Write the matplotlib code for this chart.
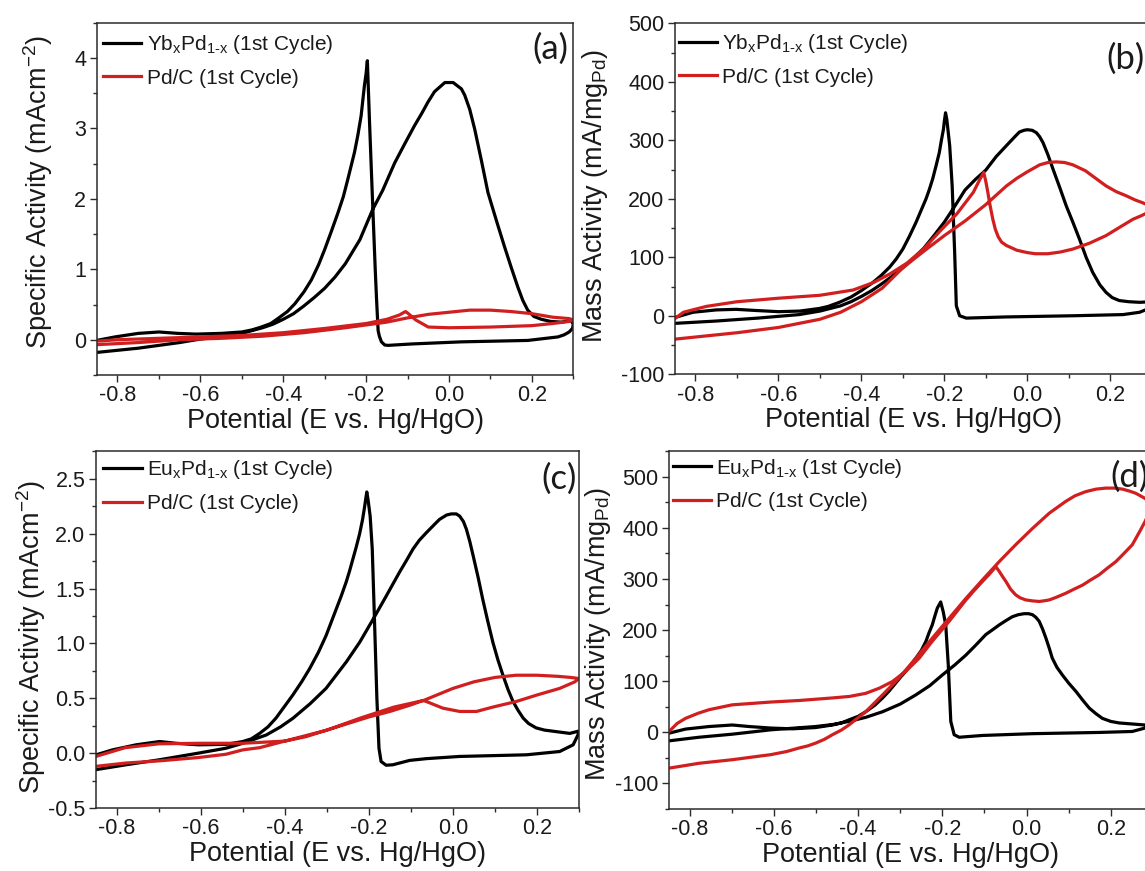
import matplotlib
matplotlib.use("Agg")
import matplotlib.pyplot as plt
from matplotlib.ticker import MultipleLocator, FormatStrFormatter

plt.rcParams['font.family'] = ['Liberation Sans', 'DejaVu Sans']
plt.rcParams['mathtext.default'] = 'regular'
plt.rcParams['axes.unicode_minus'] = False

# ---------------- data (E vs Hg/HgO, current) ----------------
# (a) specific activity, YbxPd1-x  (forward scan then reverse scan)
a_blk_E = [-0.85, -0.80, -0.75, -0.70, -0.65, -0.61, -0.55, -0.50, -0.45, -0.425, -0.40, -0.375, -0.35,
           -0.325, -0.30, -0.275, -0.25, -0.215, -0.184, -0.16, -0.131, -0.105, -0.083, -0.065, -0.051,
           -0.035, -0.01, 0.01, 0.03, 0.038, 0.05, 0.062, 0.078, 0.094, 0.115, 0.134, 0.15, 0.166, 0.178,
           0.19, 0.205, 0.223, 0.245, 0.271, 0.295, 0.30,
           0.298, 0.29, 0.278, 0.263, 0.19, 0.03, -0.09, -0.147, -0.155, -0.163, -0.168, -0.171, -0.175,
           -0.178, -0.186, -0.192, -0.196, -0.197, -0.20, -0.204, -0.212, -0.22, -0.228, -0.244, -0.255,
           -0.268, -0.285, -0.30, -0.315, -0.332, -0.35, -0.372, -0.39, -0.413, -0.43, -0.453, -0.475,
           -0.50, -0.55, -0.61, -0.654, -0.70, -0.75, -0.806, -0.85]
a_blk_I = [-0.18, -0.15, -0.12, -0.08, -0.04, 0.0, 0.05, 0.09, 0.17, 0.22, 0.29, 0.37, 0.48,
           0.60, 0.73, 0.89, 1.08, 1.42, 1.85, 2.12, 2.51, 2.80, 3.04, 3.22, 3.37,
           3.52, 3.65, 3.65, 3.56, 3.47, 3.27, 2.99, 2.55, 2.09, 1.68, 1.32, 1.03, 0.75, 0.56,
           0.42, 0.33, 0.29, 0.26, 0.25, 0.27, 0.22,
           0.16, 0.11, 0.07, 0.04, -0.01, -0.03, -0.06, -0.08, -0.075, -0.03, 0.05, 0.13, 0.6,
           1.0, 2.2, 3.13, 3.8, 3.96, 3.78, 3.61, 3.18, 2.9, 2.66, 2.28, 2.03,
           1.8, 1.52, 1.28, 1.06, 0.85, 0.68, 0.51, 0.40, 0.30, 0.23, 0.18, 0.14,
           0.11, 0.09, 0.08, 0.09, 0.11, 0.09, 0.04, -0.01]
# (a) Pd/C
a_red_E = [-0.85, -0.75, -0.65, -0.55, -0.45, -0.35, -0.25, -0.15, -0.10, -0.05, 0.0, 0.05, 0.10, 0.15,
           0.20, 0.25, 0.29, 0.30,
           0.29, 0.25, 0.20, 0.10, 0.0, -0.05, -0.08, -0.10, -0.105, -0.12, -0.15, -0.20, -0.30, -0.40,
           -0.50, -0.60, -0.70, -0.80, -0.85]
a_red_I = [-0.07, -0.04, 0.0, 0.02, 0.05, 0.10, 0.17, 0.25, 0.31, 0.36, 0.39, 0.42, 0.42, 0.40,
           0.37, 0.32, 0.30, 0.28,
           0.26, 0.23, 0.20, 0.18, 0.17, 0.18, 0.28, 0.38, 0.40, 0.35, 0.29, 0.23, 0.16, 0.10,
           0.06, 0.04, 0.02, 0.0, -0.02]

# (b) mass activity, YbxPd1-x
b_blk_E = [-0.85, -0.75, -0.65, -0.55, -0.50, -0.45, -0.425, -0.40, -0.375, -0.35, -0.325, -0.30, -0.275,
           -0.25, -0.225, -0.20, -0.175, -0.15, -0.125, -0.10, -0.075, -0.05, -0.03, -0.019, -0.008, 0.0,
           0.012, 0.022, 0.03, 0.038, 0.05, 0.062, 0.078, 0.094, 0.11, 0.126, 0.142, 0.158, 0.175, 0.19,
           0.205, 0.222, 0.245, 0.271, 0.30,
           0.30, 0.285, 0.271, 0.231, 0.110, -0.051, -0.147, -0.163, -0.171, -0.175, -0.181, -0.187,
           -0.194, -0.197, -0.20, -0.202, -0.207, -0.212, -0.22, -0.228, -0.236, -0.244, -0.256, -0.268,
           -0.284, -0.30, -0.316, -0.332, -0.352, -0.372, -0.40, -0.425, -0.453, -0.48,
           -0.501, -0.549, -0.60, -0.654, -0.702, -0.75, -0.806, -0.85]
b_blk_I = [-13, -9, -4, 2, 8, 17, 24, 33, 43, 55, 68, 82, 98,
           115, 137, 160, 187, 215, 233, 249, 272, 291, 306, 314, 317, 318,
           317, 313, 306, 296, 275, 251, 220, 188, 160, 131, 100, 74, 53, 40,
           31, 26, 24, 23, 24,
           15, 10, 6, 2, 0, -2, -4, 0, 17, 108, 222, 291,
           336, 347, 332, 319, 300, 279, 256, 234, 216, 200, 180, 160,
           136, 114, 97, 83, 69, 57, 43, 32, 23, 16,
           12.5, 8, 7, 9, 11, 10, 6, -3]
# (b) Pd/C
b_red_E = [-0.85, -0.70, -0.60, -0.50, -0.45, -0.40, -0.35, -0.30, -0.25, -0.20, -0.15, -0.10, -0.05,
           -0.025, 0.0, 0.03, 0.05, 0.07, 0.09, 0.11, 0.14, 0.165, 0.19, 0.215, 0.239, 0.26, 0.279, 0.30,
           0.295, 0.275, 0.255, 0.22, 0.19, 0.15, 0.11, 0.08, 0.05, 0.02, 0.0, -0.025, -0.05, -0.062,
           -0.07, -0.077, -0.083, -0.09, -0.095, -0.10, -0.105, -0.115, -0.13, -0.17, -0.21, -0.25,
           -0.29, -0.33, -0.37, -0.42, -0.50, -0.60, -0.70, -0.774, -0.829, -0.85]
b_red_I = [-40, -29, -20, -6, 6, 24, 47, 82, 110, 137, 162, 190, 222,
           235, 246, 258, 262, 263, 262, 258, 248, 235, 222, 212, 205, 198, 193, 186,
           178, 171, 165, 150, 137, 124, 114, 109, 106, 106, 108, 112, 120, 126,
           135, 148, 165, 190, 211, 230, 245, 232, 211, 174, 145, 114,
           90, 72, 57, 44, 35, 30, 24, 16, 6, -5]

# (c) specific activity, EuxPd1-x
c_blk_E = [-0.849, -0.778, -0.698, -0.606, -0.54, -0.50, -0.444, -0.41, -0.381, -0.34, -0.302, -0.278,
           -0.254, -0.222, -0.19, -0.159, -0.127, -0.11, -0.095, -0.08, -0.063, -0.045, -0.032, -0.015,
           -0.004, 0.008, 0.016, 0.025, 0.032, 0.04, 0.048, 0.06, 0.071, 0.083, 0.095, 0.107, 0.119,
           0.131, 0.143, 0.155, 0.167, 0.18, 0.198, 0.218, 0.238, 0.278, 0.298,
           0.298, 0.286, 0.254, 0.175, 0.016, -0.063, -0.103, -0.143, -0.159, -0.171, -0.176, -0.181,
           -0.187, -0.192, -0.197, -0.202, -0.205, -0.207, -0.21, -0.215, -0.222, -0.23, -0.238, -0.246,
           -0.254, -0.266, -0.278, -0.29, -0.302, -0.32, -0.341, -0.36, -0.381, -0.40, -0.421, -0.44,
           -0.46, -0.48, -0.50, -0.54, -0.606, -0.659, -0.698, -0.754, -0.81, -0.849]
c_blk_I = [-0.15, -0.106, -0.06, 0.0, 0.045, 0.09, 0.166, 0.24, 0.317, 0.45, 0.59, 0.71,
           0.83, 1.01, 1.22, 1.43, 1.65, 1.76, 1.86, 1.94, 2.01, 2.08, 2.13, 2.17,
           2.18, 2.18, 2.16, 2.11, 2.04, 1.93, 1.80, 1.60, 1.40, 1.20, 1.01, 0.85, 0.71,
           0.58, 0.47, 0.39, 0.32, 0.27, 0.23, 0.21, 0.20, 0.18, 0.20,
           0.17, 0.076, 0.015, -0.015, -0.03, -0.05, -0.066, -0.106, -0.11, -0.076, 0.045, 0.5,
           1.25, 1.86, 2.16, 2.31, 2.38, 2.33, 2.25, 2.13, 2.0, 1.88, 1.77, 1.66,
           1.56, 1.43, 1.31, 1.19, 1.07, 0.92, 0.77, 0.65, 0.53, 0.43, 0.32, 0.24,
           0.18, 0.13, 0.106, 0.08, 0.076, 0.09, 0.106, 0.076, 0.03, -0.015]
# (c) Pd/C
c_red_E = [-0.849, -0.778, -0.698, -0.606, -0.54, -0.50, -0.46, -0.42, -0.38, -0.34, -0.30, -0.22, -0.14,
           -0.07, 0.0, 0.05, 0.10, 0.15, 0.20, 0.25, 0.28, 0.30,
           0.29, 0.254, 0.20, 0.175, 0.15, 0.095, 0.056, 0.016, -0.024, -0.063, -0.071, -0.10, -0.15,
           -0.20, -0.25, -0.30, -0.35, -0.40, -0.50, -0.60, -0.70, -0.78, -0.85]
c_red_I = [-0.12, -0.09, -0.07, -0.04, -0.01, 0.03, 0.05, 0.09, 0.13, 0.17, 0.21, 0.32, 0.42,
           0.48, 0.59, 0.65, 0.69, 0.71, 0.71, 0.70, 0.69, 0.68,
           0.65, 0.59, 0.53, 0.50, 0.47, 0.42, 0.38, 0.38, 0.41, 0.47, 0.48, 0.44, 0.38,
           0.33, 0.27, 0.21, 0.15, 0.11, 0.09, 0.09, 0.085, 0.05, -0.03]

# (d) mass activity, EuxPd1-x
d_blk_E = [-0.849, -0.778, -0.699, -0.607, -0.501, -0.46, -0.422, -0.382, -0.342, -0.30, -0.263, -0.23,
           -0.2, -0.17, -0.144, -0.12, -0.097, -0.08, -0.065, -0.05, -0.034, -0.02, -0.006, 0.005, 0.014,
           0.022, 0.03, 0.038, 0.046, 0.054, 0.061, 0.072, 0.085, 0.10, 0.117, 0.133, 0.149, 0.165, 0.18,
           0.20, 0.22, 0.281, 0.30,
           0.30, 0.281, 0.251, 0.172, 0.014, -0.105, -0.16, -0.172, -0.18, -0.186, -0.192, -0.198,
           -0.204, -0.208, -0.212, -0.218, -0.224, -0.232, -0.239, -0.25, -0.263, -0.275, -0.287, -0.30,
           -0.311, -0.326, -0.342, -0.36, -0.382, -0.40, -0.422, -0.44, -0.461,
           -0.501, -0.556, -0.607, -0.659, -0.699, -0.754, -0.81, -0.849]
d_blk_I = [-17, -10, -4, 4.6, 11, 15, 21, 29, 40, 55, 73, 91,
           112, 132, 151, 171, 191, 201, 210, 218, 226, 230, 232, 232, 230,
           225, 217, 202, 184, 164, 145, 127, 112, 96, 80, 63, 47, 36, 27,
           21, 18, 14, 13,
           10, 8, 1.3, -0.6, -3, -6.5, -10, -5, 21, 132, 210, 236,
           255, 249, 243, 227, 210, 194, 178, 160, 145, 131, 119, 107,
           96, 81, 67, 53, 40, 31, 24, 18, 14,
           9, 6.5, 8, 11, 14, 11, 6, -2]
# (d) Pd/C
d_red_E = [-0.849, -0.778, -0.699, -0.607, -0.57, -0.54, -0.52, -0.501, -0.48, -0.461, -0.44, -0.422,
           -0.382, -0.342, -0.303, -0.263, -0.224, -0.184, -0.144, -0.105, -0.065, -0.026, 0.014, 0.054,
           0.093, 0.115, 0.14, 0.165, 0.188, 0.21, 0.228, 0.245, 0.259, 0.27, 0.281, 0.29, 0.30,
           0.295, 0.29, 0.281, 0.27, 0.251, 0.23, 0.212, 0.19, 0.172, 0.15, 0.133, 0.11, 0.093, 0.07,
           0.054, 0.04, 0.03, 0.015, -0.002, -0.015, -0.026, -0.038, -0.049, -0.058, -0.065, -0.073,
           -0.09, -0.105, -0.125, -0.144, -0.184, -0.224, -0.255, -0.287, -0.319, -0.35, -0.382, -0.42,
           -0.461, -0.54, -0.607, -0.699, -0.754, -0.78, -0.81, -0.83, -0.849]
d_red_I = [-70.5, -61, -54, -44, -38, -31, -27, -21.5, -14, -5, 4, 14,
           40, 73, 106, 145, 184, 223, 262, 298, 334, 367, 399, 429,
           452, 463, 471, 476, 478, 478, 476, 472, 468, 463, 458, 452, 445,
           436, 428, 412, 395, 367, 349, 334, 320, 308, 297, 288, 279, 272, 264,
           259, 257, 256, 257, 259, 263, 269, 280, 295, 306, 315, 324,
           308, 295, 277, 259, 217, 178, 145, 119, 99, 86, 76, 70,
           67, 62, 59, 53.5, 44, 37, 27, 17, 1.3]

x_ticks = [-0.8, -0.6, -0.4, -0.2, 0.0, 0.2]

# ---------------- styling ----------------
BLACK = '#000000'
RED = '#d11f1f'
TXT = '#1a1a1a'
SPINE = '#2b2b2b'
LW = 2.3

fig = plt.figure(figsize=(11.45, 8.71), dpi=100)

panels = [
    dict(pos=[0.0845, 0.5695, 0.4162, 0.4045], blk=(a_blk_E, a_blk_I), red=(a_red_E, a_red_I),
         ylim=(-0.5, 4.5), major=1, minor=0.5, fmt='%d',
         ylabel='Specific Activity (mAcm$^{-2}$)', elem='Yb', tag='(a)',
         tagpos=(0.9895, 0.972), ylab=(-0.088, 0.52), leg=(0.013, 0.97)),
    dict(pos=[0.5893, 0.5703, 0.4165, 0.4030], blk=(b_blk_E, b_blk_I), red=(b_red_E, b_red_I),
         ylim=(-100, 500), major=100, minor=50, fmt='%d',
         ylabel='Mass Activity (mA/mg$_{Pd}$)', elem='Yb', tag='(b)',
         tagpos=(0.986, 0.946), ylab=(-0.136, 0.507), leg=(0.008, 0.975)),
    dict(pos=[0.0836, 0.0723, 0.4221, 0.4095], blk=(c_blk_E, c_blk_I), red=(c_red_E, c_red_I),
         ylim=(-0.5, 2.75), major=0.5, minor=0.25, fmt='%.1f',
         ylabel='Specific Activity (mAcm$^{-2}$)', elem='Eu', tag='(c)',
         tagpos=(0.996, 0.968), ylab=(-0.098, 0.48), leg=(0.016, 0.98)),
    dict(pos=[0.5840, 0.0715, 0.4229, 0.4103], blk=(d_blk_E, d_blk_I), red=(d_red_E, d_red_I),
         ylim=(-150, 550), major=100, minor=50, fmt='%d',
         ylabel='Mass Activity (mA/mg$_{Pd}$)', elem='Eu', tag='(d)',
         tagpos=(0.992, 0.974), ylab=(-0.114, 0.49), leg=(0.008, 0.985)),
]

for p in panels:
    ax = fig.add_axes(p['pos'])
    ax.plot(*p['blk'], color=BLACK, lw=LW, solid_joinstyle='round',
            label=p['elem'] + '$_{x}$Pd$_{1\u2010x}$ (1st Cycle)')
    ax.plot(*p['red'], color=RED, lw=LW, solid_joinstyle='round',
            label='Pd/C (1st Cycle)')
    ax.set_xlim(-0.85, 0.3)
    ax.set_ylim(*p['ylim'])
    ax.set_xticks(x_ticks)
    ax.xaxis.set_minor_locator(MultipleLocator(0.1))
    ax.xaxis.set_major_formatter(FormatStrFormatter('%.1f'))
    ax.yaxis.set_major_locator(MultipleLocator(p['major']))
    ax.yaxis.set_minor_locator(MultipleLocator(p['minor']))
    ax.yaxis.set_major_formatter(FormatStrFormatter(p['fmt']))
    ax.tick_params(which='major', direction='out', length=5, width=1.0, color=SPINE,
                   labelsize=15.5, labelcolor=TXT, pad=2.5)
    ax.tick_params(which='minor', direction='out', length=3, width=1.0, color=SPINE)
    for s in ax.spines.values():
        s.set_color(SPINE)
        s.set_linewidth(1.1)
    ax.set_xlabel('Potential (E vs. Hg/HgO)', fontsize=19.5, color=TXT)
    ax.xaxis.set_label_coords(0.5, -0.093)
    ax.set_ylabel(p['ylabel'], fontsize=19.5, color=TXT)
    ax.yaxis.set_label_coords(*p['ylab'])
    ax.text(p['tagpos'][0], p['tagpos'][1], p['tag'], transform=ax.transAxes,
            ha='right', va='top', fontsize=25, family=['Lato', 'DejaVu Sans'], color=TXT)
    ax.legend(loc='upper left', bbox_to_anchor=p['leg'], frameon=False, fontsize=15,
              handlelength=1.85, handletextpad=0.25, labelspacing=0.6,
              borderpad=0, borderaxespad=0, labelcolor=TXT)

fig.savefig('out.png', dpi=100)
